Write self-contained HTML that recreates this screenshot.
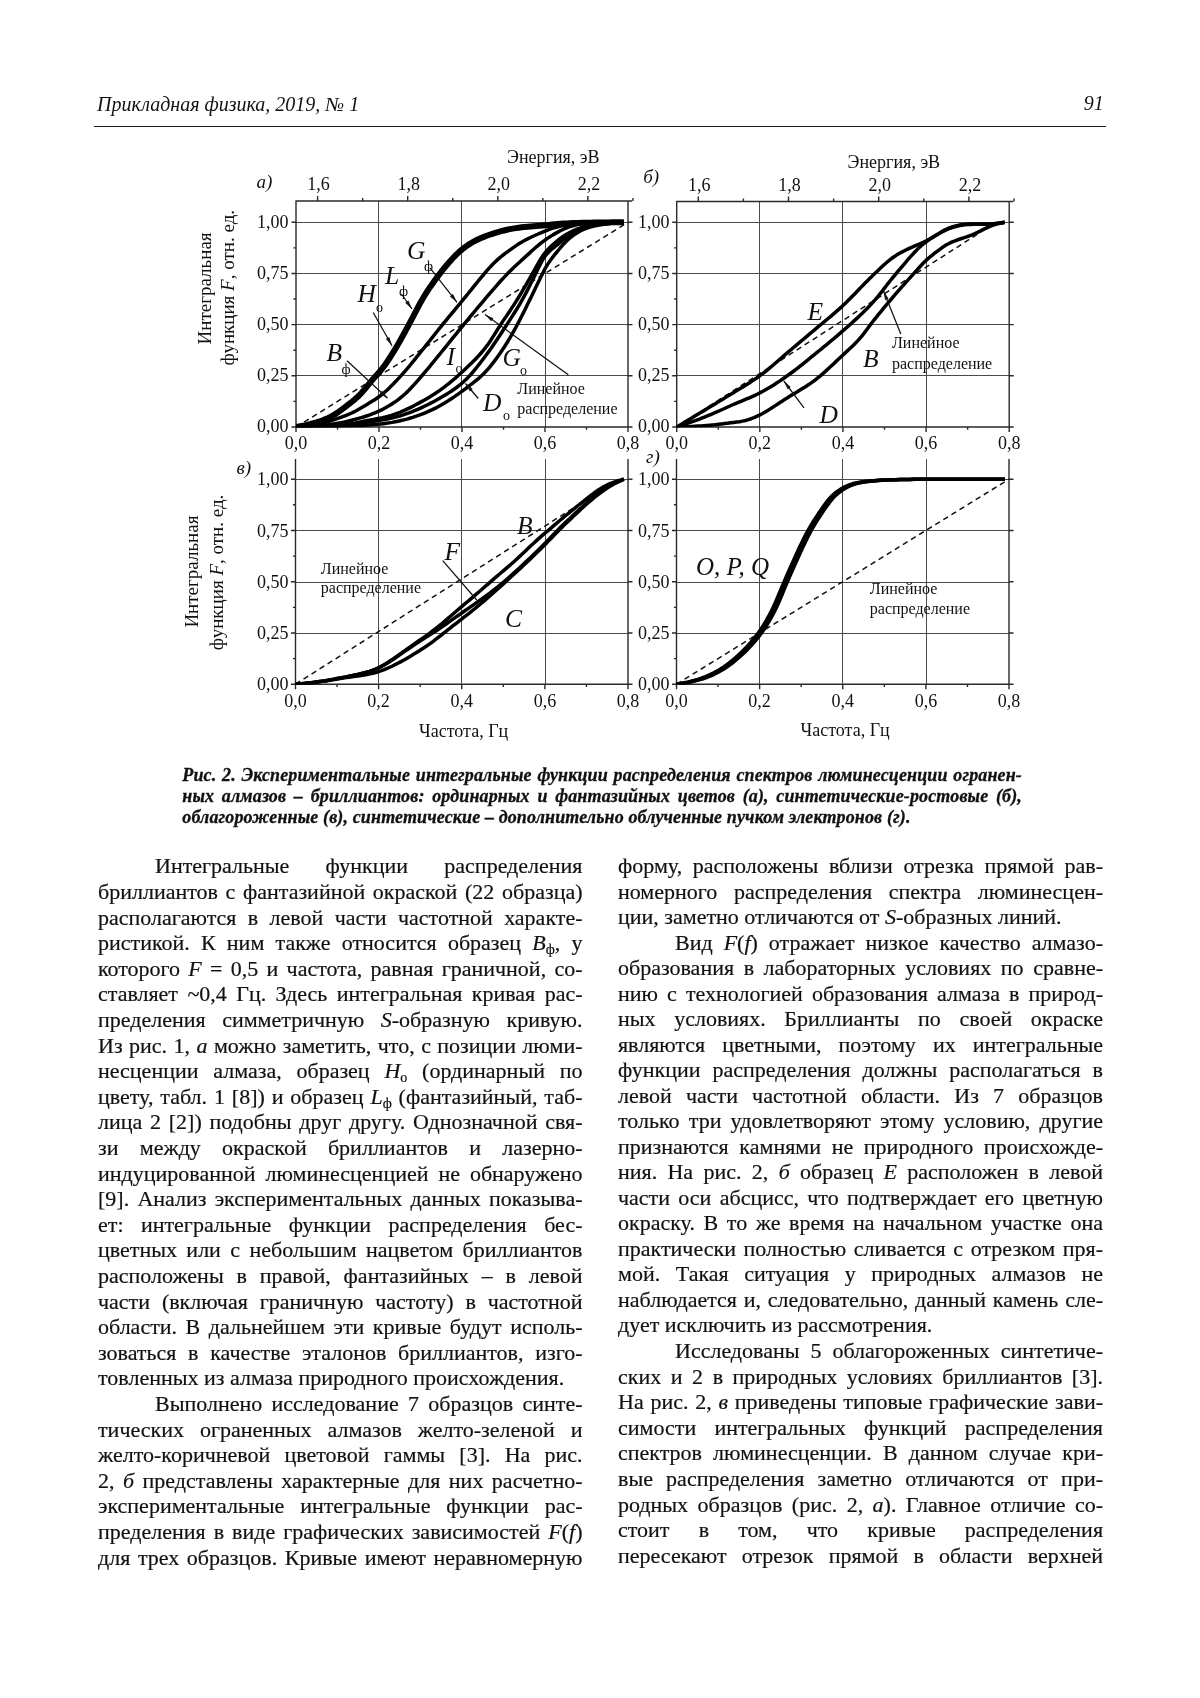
<!DOCTYPE html>
<html lang="ru"><head><meta charset="utf-8"><title>Прикладная физика, 2019, № 1</title>
<style>
html,body{margin:0;padding:0;background:#fff}
body{filter:grayscale(1)}
body{width:1200px;height:1698px;position:relative;overflow:hidden;color:#111;
font-family:"Liberation Serif","Times New Roman",serif}
.hdr{position:absolute;font-style:italic;font-size:20px;line-height:24px;white-space:nowrap}
.rule{position:absolute;left:94px;top:125.6px;width:1012px;height:1.4px;background:#1a1a1a}
.ln{position:absolute;font-size:22px;line-height:25.6px;height:25.6px;white-space:nowrap;
text-align:justify;text-align-last:justify;overflow:visible;-webkit-text-stroke:0.2px #111}
.ln.last{text-align:left;text-align-last:left}
.ln sub{font-size:14px;vertical-align:0;position:relative;top:4px;line-height:0}
.cap{position:absolute;left:182.3px;width:839.7px;font-weight:bold;font-style:italic;font-size:18px;
line-height:20.8px;white-space:nowrap;text-align:justify;text-align-last:justify;letter-spacing:0.13px;-webkit-text-stroke:0.3px #111}
.cap.last{text-align:left;text-align-last:left}
</style></head><body>
<div class="hdr" style="left:97px;top:92px">Прикладная физика, 2019, № 1</div>
<div class="hdr" style="left:1083.8px;top:91px">91</div>
<div class="rule"></div>
<svg width="1200" height="780" viewBox="0 0 1200 780" style="position:absolute;left:0;top:0">
<g font-family="Liberation Serif, Times New Roman, serif" font-size="18" fill="#111">
<path d="M296 222.5H628M296 273.5H628M296 324.5H628M296 375.5H628M378.5 201V427M461.5 201V427M545.5 201V427" stroke="#4a4a4a" stroke-width="1" fill="none"/>
<path d="M296 201V427M628 201V427M295.4 427H628.6M295.4 201H632M291.5 427H296M628 427H632.5M293.4 401.41H296M291.5 375.82H296M628 375.82H632.5M293.4 350.24H296M291.5 324.65H296M628 324.65H632.5M293.4 299.06H296M291.5 273.48H296M628 273.48H632.5M293.4 247.89H296M291.5 222.3H296M628 222.3H632.5M296 427V432M337.5 427V429.7M379 427V432M420.5 427V429.7M462 427V432M503.5 427V429.7M545 427V432M586.5 427V429.7M628 427V432M317.6 196V201M362.65 198V201M407.7 196V201M452.75 198V201M497.8 196V201M542.85 198V201M587.9 196V201M632.95 198V201" stroke="#2a2a2a" stroke-width="1.4" fill="none"/>
<path d="M676.7 222.5H1009.2M676.7 273.5H1009.2M676.7 324.5H1009.2M676.7 375.5H1009.2M759.5 201.5V427M842.5 201.5V427M926.5 201.5V427" stroke="#4a4a4a" stroke-width="1" fill="none"/>
<path d="M676.7 201.5V427M1009.2 201.5V427M676.1 427H1009.8M676.1 201.5H1013.2M672.2 427H676.7M1009.2 427H1013.7M674.1 401.41H676.7M672.2 375.82H676.7M1009.2 375.82H1013.7M674.1 350.24H676.7M672.2 324.65H676.7M1009.2 324.65H1013.7M674.1 299.06H676.7M672.2 273.48H676.7M1009.2 273.48H1013.7M674.1 247.89H676.7M672.2 222.3H676.7M1009.2 222.3H1013.7M676.7 427V432M718.26 427V429.7M759.83 427V432M801.39 427V429.7M842.95 427V432M884.51 427V429.7M926.08 427V432M967.64 427V429.7M1009.2 427V432M698.3 196.5V201.5M743.4 198.5V201.5M788.5 196.5V201.5M833.6 198.5V201.5M878.7 196.5V201.5M923.8 198.5V201.5M968.9 196.5V201.5M1014 198.5V201.5" stroke="#2a2a2a" stroke-width="1.4" fill="none"/>
<path d="M295.5 479.5H628M295.5 530.5H628M295.5 582.5H628M295.5 633.5H628M378.5 459V684.2M461.5 459V684.2M545.5 459V684.2" stroke="#4a4a4a" stroke-width="1" fill="none"/>
<path d="M295.5 459V684.2M628 459V684.2M294.9 684.2H628.6M291 684.2H295.5M628 684.2H632.5M292.9 658.58H295.5M291 632.95H295.5M628 632.95H632.5M292.9 607.33H295.5M291 581.7H295.5M628 581.7H632.5M292.9 556.08H295.5M291 530.45H295.5M628 530.45H632.5M292.9 504.82H295.5M291 479.2H295.5M628 479.2H632.5M295.5 684.2V689.2M337.06 684.2V686.9M378.62 684.2V689.2M420.19 684.2V686.9M461.75 684.2V689.2M503.31 684.2V686.9M544.88 684.2V689.2M586.44 684.2V686.9M628 684.2V689.2" stroke="#2a2a2a" stroke-width="1.4" fill="none"/>
<path d="M676.5 479.5H1009M676.5 530.5H1009M676.5 582.5H1009M676.5 633.5H1009M759.5 459V684.2M842.5 459V684.2M926.5 459V684.2" stroke="#4a4a4a" stroke-width="1" fill="none"/>
<path d="M676.5 459V684.2M1009 459V684.2M675.9 684.2H1009.6M672 684.2H676.5M1009 684.2H1013.5M673.9 658.58H676.5M672 632.95H676.5M1009 632.95H1013.5M673.9 607.33H676.5M672 581.7H676.5M1009 581.7H1013.5M673.9 556.08H676.5M672 530.45H676.5M1009 530.45H1013.5M673.9 504.82H676.5M672 479.2H676.5M1009 479.2H1013.5M676.5 684.2V689.2M718.06 684.2V686.9M759.62 684.2V689.2M801.19 684.2V686.9M842.75 684.2V689.2M884.31 684.2V686.9M925.88 684.2V689.2M967.44 684.2V686.9M1009 684.2V689.2" stroke="#2a2a2a" stroke-width="1.4" fill="none"/>
<text x="288.4" y="432.3" text-anchor="end">0,00</text>
<text x="288.4" y="381.12" text-anchor="end">0,25</text>
<text x="288.4" y="329.95" text-anchor="end">0,50</text>
<text x="288.4" y="278.78" text-anchor="end">0,75</text>
<text x="288.4" y="227.6" text-anchor="end">1,00</text>
<text x="296" y="448.8" text-anchor="middle">0,0</text>
<text x="379" y="448.8" text-anchor="middle">0,2</text>
<text x="462" y="448.8" text-anchor="middle">0,4</text>
<text x="545" y="448.8" text-anchor="middle">0,6</text>
<text x="628" y="448.8" text-anchor="middle">0,8</text>
<text x="669.5" y="432.3" text-anchor="end">0,00</text>
<text x="669.5" y="381.12" text-anchor="end">0,25</text>
<text x="669.5" y="329.95" text-anchor="end">0,50</text>
<text x="669.5" y="278.78" text-anchor="end">0,75</text>
<text x="669.5" y="227.6" text-anchor="end">1,00</text>
<text x="676.7" y="448.8" text-anchor="middle">0,0</text>
<text x="759.83" y="448.8" text-anchor="middle">0,2</text>
<text x="842.95" y="448.8" text-anchor="middle">0,4</text>
<text x="926.08" y="448.8" text-anchor="middle">0,6</text>
<text x="1009.2" y="448.8" text-anchor="middle">0,8</text>
<text x="288.5" y="690.4" text-anchor="end">0,00</text>
<text x="288.5" y="639.15" text-anchor="end">0,25</text>
<text x="288.5" y="587.9" text-anchor="end">0,50</text>
<text x="288.5" y="536.65" text-anchor="end">0,75</text>
<text x="288.5" y="485.4" text-anchor="end">1,00</text>
<text x="295.5" y="706.6" text-anchor="middle">0,0</text>
<text x="378.62" y="706.6" text-anchor="middle">0,2</text>
<text x="461.75" y="706.6" text-anchor="middle">0,4</text>
<text x="544.88" y="706.6" text-anchor="middle">0,6</text>
<text x="628" y="706.6" text-anchor="middle">0,8</text>
<text x="669.5" y="690.4" text-anchor="end">0,00</text>
<text x="669.5" y="639.15" text-anchor="end">0,25</text>
<text x="669.5" y="587.9" text-anchor="end">0,50</text>
<text x="669.5" y="536.65" text-anchor="end">0,75</text>
<text x="669.5" y="485.4" text-anchor="end">1,00</text>
<text x="676.5" y="706.6" text-anchor="middle">0,0</text>
<text x="759.62" y="706.6" text-anchor="middle">0,2</text>
<text x="842.75" y="706.6" text-anchor="middle">0,4</text>
<text x="925.88" y="706.6" text-anchor="middle">0,6</text>
<text x="1009" y="706.6" text-anchor="middle">0,8</text>
<text x="318.6" y="190.4" text-anchor="middle">1,6</text>
<text x="408.7" y="190.4" text-anchor="middle">1,8</text>
<text x="498.8" y="190.4" text-anchor="middle">2,0</text>
<text x="588.9" y="190.4" text-anchor="middle">2,2</text>
<text x="699.3" y="191.3" text-anchor="middle">1,6</text>
<text x="789.5" y="191.3" text-anchor="middle">1,8</text>
<text x="879.7" y="191.3" text-anchor="middle">2,0</text>
<text x="969.9" y="191.3" text-anchor="middle">2,2</text>
<text x="507" y="162.8">Энергия, эВ</text>
<text x="847.6" y="167.9">Энергия, эВ</text>
<text x="419" y="736.5">Частота, Гц</text>
<text x="800.5" y="736.3">Частота, Гц</text>
<text transform="translate(211.3 288.4) rotate(-90)" text-anchor="middle" font-size="19">Интегральная</text>
<text transform="translate(234.3 287.7) rotate(-90)" text-anchor="middle" font-size="19">функция <tspan font-style="italic">F</tspan>, отн. ед.</text>
<text transform="translate(197.8 571.6) rotate(-90)" text-anchor="middle" font-size="19">Интегральная</text>
<text transform="translate(222.6 572.4) rotate(-90)" text-anchor="middle" font-size="19">функция <tspan font-style="italic">F</tspan>, отн. ед.</text>
<text x="256.5" y="188.1" font-style="italic" font-size="19">а)</text>
<text x="643.2" y="182.7" font-style="italic" font-size="19">б)</text>
<text x="236.4" y="473.5" font-style="italic" font-size="19">в)</text>
<text x="646" y="462.5" font-style="italic" font-size="19">г)</text>
<defs>
<clipPath id="ca"><rect x="295.8" y="191" width="342" height="236.3"/></clipPath>
<clipPath id="cb"><rect x="676.5" y="191.5" width="342.5" height="235.8"/></clipPath>
<clipPath id="cv"><rect x="295.3" y="449" width="342.5" height="235.5"/></clipPath>
<clipPath id="cg"><rect x="676.3" y="449" width="342.5" height="235.5"/></clipPath>
</defs>
<g clip-path="url(#ca)">
<path d="M296 427L628 222.3" stroke="#111" stroke-width="1.5" stroke-dasharray="5.5 4" fill="none"/>
<path d="M296 427 299.01 426.99 302.03 426.98 305.04 426.97 308.05 426.95 311.07 426.93 314.08 426.9 317.09 426.87 320.1 426.84 323.12 426.8 326.13 426.76 329.14 426.72 332.16 426.67 335.17 426.62 338.18 426.56 341.19 426.48 344.2 426.38 347.21 426.27 350.22 426.14 353.23 425.98 356.24 425.82 359.25 425.64 362.26 425.45 365.26 425.26 368.27 425.05 371.27 424.83 374.28 424.59 377.28 424.32 380.28 424.03 383.27 423.7 386.26 423.32 389.24 422.88 392.21 422.39 395.17 421.83 398.12 421.22 401.06 420.56 403.98 419.84 406.89 419.08 409.79 418.25 412.67 417.38 415.54 416.44 418.38 415.46 421.21 414.41 424.01 413.31 426.79 412.15 429.54 410.93 432.27 409.66 434.97 408.33 437.65 406.95 440.29 405.51 442.9 404.01 445.49 402.46 448.05 400.87 450.58 399.25 453.1 397.59 455.59 395.89 458.06 394.17 460.5 392.41 462.93 390.63 465.34 388.82 467.74 387 470.13 385.16 472.51 383.32 474.87 381.45 477.21 379.55 479.5 377.59 481.72 375.57 483.87 373.47 485.96 371.29 487.97 369.06 489.92 366.77 491.83 364.44 493.69 362.07 495.51 359.67 497.3 357.25 499.06 354.8 500.78 352.33 502.47 349.84 504.12 347.32 505.73 344.77 507.31 342.21 508.86 339.62 510.39 337.03 511.9 334.42 513.38 331.79 514.85 329.16 516.3 326.52 517.72 323.86 519.12 321.2 520.5 318.52 521.86 315.83 523.21 313.14 524.55 310.44 525.88 307.73 527.21 305.03 528.54 302.33 529.87 299.62 531.19 296.92 532.51 294.21 533.83 291.5 535.14 288.78 536.45 286.07 537.75 283.35 539.06 280.64 540.36 277.92 541.68 275.21 543.02 272.52 544.41 269.85 545.88 267.23 547.45 264.66 549.1 262.15 550.84 259.69 552.64 257.28 554.49 254.91 556.39 252.56 558.31 250.25 560.26 247.94 562.23 245.67 564.24 243.43 566.32 241.26 568.5 239.2 570.78 237.25 573.17 235.43 575.65 233.73 578.2 232.16 580.84 230.73 583.55 229.45 586.33 228.34 589.18 227.39 592.07 226.56 594.99 225.84 597.93 225.21 600.89 224.67 603.87 224.2 606.85 223.78 609.84 223.42 612.84 223.1 615.84 222.83 618.84 222.6 621.84 222.41 623.85 222.3" stroke="#000" stroke-width="3.5" fill="none" stroke-linecap="butt" stroke-linejoin="round"/>
<path d="M296 427 299.01 426.99 302.02 426.97 305.03 426.94 308.03 426.91 311.04 426.87 314.05 426.82 317.06 426.76 320.07 426.69 323.07 426.62 326.08 426.54 329.09 426.45 332.09 426.35 335.1 426.23 338.1 426.07 341.1 425.87 344.1 425.6 347.08 425.26 350.06 424.86 353.04 424.42 356.01 423.95 358.98 423.46 361.94 422.96 364.91 422.48 367.89 422.01 370.86 421.57 373.84 421.15 376.82 420.73 379.8 420.3 382.77 419.84 385.73 419.33 388.68 418.76 391.62 418.12 394.54 417.41 397.45 416.64 400.34 415.81 403.21 414.92 406.06 413.96 408.89 412.95 411.7 411.87 414.48 410.74 417.25 409.56 420 408.35 422.73 407.09 425.45 405.79 428.14 404.46 430.82 403.09 433.48 401.68 436.12 400.25 438.76 398.79 441.37 397.31 443.97 395.79 446.54 394.24 449.09 392.64 451.6 390.99 454.07 389.28 456.5 387.51 458.89 385.68 461.22 383.78 463.48 381.81 465.69 379.77 467.82 377.65 469.89 375.47 471.89 373.23 473.85 370.95 475.76 368.63 477.64 366.28 479.49 363.91 481.32 361.52 483.14 359.13 484.95 356.72 486.74 354.3 488.51 351.87 490.26 349.43 491.99 346.96 493.7 344.49 495.39 342 497.07 339.5 498.73 337 500.39 334.49 502.04 331.97 503.69 329.45 505.33 326.93 506.97 324.41 508.61 321.89 510.25 319.37 511.88 316.84 513.51 314.31 515.11 311.76 516.7 309.21 518.27 306.64 519.81 304.06 521.33 301.46 522.81 298.84 524.26 296.21 525.68 293.56 527.07 290.89 528.44 288.21 529.8 285.53 531.15 282.84 532.5 280.15 533.85 277.46 535.19 274.77 536.51 272.07 537.82 269.36 539.12 266.65 540.45 263.95 541.84 261.3 543.36 258.72 545.05 256.27 546.93 253.95 548.99 251.79 551.19 249.76 553.48 247.83 555.82 245.95 558.17 244.07 560.5 242.17 562.82 240.26 565.15 238.36 567.53 236.54 569.98 234.81 572.52 233.21 575.13 231.73 577.8 230.37 580.53 229.14 583.32 228.05 586.17 227.12 589.06 226.32 591.99 225.64 594.94 225.06 597.9 224.55 600.87 224.11 603.86 223.74 606.85 223.42 609.84 223.13 612.84 222.89 615.84 222.68 618.84 222.52 621.85 222.38 623.85 222.3" stroke="#000" stroke-width="3.5" fill="none" stroke-linecap="butt" stroke-linejoin="round"/>
<path d="M296 427 299.01 426.98 302.03 426.95 305.04 426.91 308.05 426.86 311.07 426.8 314.08 426.72 317.09 426.63 320.11 426.53 323.12 426.42 326.13 426.3 329.14 426.17 332.15 426.02 335.16 425.85 338.16 425.63 341.16 425.36 344.15 425.01 347.13 424.57 350.1 424.07 353.06 423.52 356.02 422.92 358.97 422.31 361.92 421.69 364.87 421.07 367.82 420.48 370.78 419.91 373.74 419.36 376.71 418.81 379.67 418.24 382.62 417.63 385.55 416.95 388.46 416.19 391.34 415.33 394.2 414.38 397.03 413.35 399.84 412.26 402.62 411.11 405.38 409.9 408.11 408.63 410.82 407.31 413.5 405.94 416.17 404.53 418.82 403.1 421.46 401.65 424.09 400.18 426.71 398.69 429.31 397.16 431.88 395.6 434.43 393.99 436.94 392.33 439.42 390.62 441.87 388.86 444.28 387.06 446.67 385.22 449.03 383.35 451.37 381.44 453.68 379.51 455.96 377.55 458.22 375.55 460.46 373.53 462.67 371.48 464.87 369.42 467.06 367.35 469.24 365.27 471.4 363.17 473.54 361.05 475.65 358.9 477.72 356.72 479.76 354.5 481.75 352.23 483.68 349.93 485.56 347.57 487.36 345.16 489.1 342.7 490.78 340.2 492.41 337.67 494.02 335.12 495.62 332.57 497.22 330.01 498.83 327.47 500.46 324.93 502.11 322.41 503.78 319.9 505.47 317.4 507.15 314.9 508.84 312.41 510.52 309.91 512.19 307.4 513.85 304.88 515.48 302.35 517.1 299.8 518.68 297.24 520.25 294.66 521.79 292.08 523.32 289.48 524.83 286.87 526.33 284.26 527.83 281.64 529.34 279.03 530.84 276.42 532.33 273.8 533.81 271.18 535.28 268.54 536.74 265.91 538.21 263.28 539.71 260.67 541.28 258.1 542.93 255.59 544.71 253.17 546.61 250.85 548.63 248.63 550.76 246.5 552.97 244.46 555.25 242.49 557.58 240.6 559.97 238.76 562.4 236.99 564.89 235.3 567.45 233.73 570.08 232.27 572.78 230.95 575.53 229.74 578.33 228.64 581.17 227.65 584.05 226.78 586.96 226.02 589.89 225.36 592.85 224.79 595.82 224.3 598.8 223.88 601.79 223.53 604.79 223.25 607.8 223.01 610.8 222.81 613.81 222.64 616.82 222.51 619.83 222.4 622.85 222.32 623.85 222.3" stroke="#000" stroke-width="3.5" fill="none" stroke-linecap="butt" stroke-linejoin="round"/>
<path d="M296 427 299.01 426.9 302.02 426.79 305.03 426.66 308.04 426.51 311.05 426.33 314.05 426.14 317.06 425.91 320.06 425.66 323.06 425.38 326.05 425.05 329.04 424.69 332.03 424.29 335 423.84 337.97 423.34 340.93 422.78 343.88 422.16 346.81 421.48 349.73 420.75 352.65 420 355.56 419.22 358.46 418.42 361.36 417.59 364.24 416.71 367.1 415.78 369.94 414.78 372.76 413.72 375.54 412.58 378.3 411.37 381.02 410.08 383.71 408.73 386.36 407.3 388.96 405.8 391.52 404.22 394.03 402.56 396.5 400.83 398.91 399.03 401.26 397.16 403.56 395.22 405.8 393.21 407.96 391.12 410.07 388.97 412.14 386.78 414.16 384.55 416.17 382.31 418.16 380.05 420.15 377.78 422.12 375.5 424.08 373.22 426.02 370.92 427.95 368.6 429.87 366.28 431.78 363.95 433.68 361.61 435.58 359.27 437.48 356.93 439.37 354.59 441.28 352.26 443.18 349.92 445.08 347.58 446.97 345.24 448.87 342.9 450.76 340.55 452.65 338.21 454.55 335.87 456.44 333.53 458.34 331.19 460.25 328.85 462.15 326.52 464.06 324.19 465.97 321.86 467.89 319.53 469.8 317.21 471.72 314.89 473.64 312.57 475.57 310.25 477.5 307.94 479.44 305.64 481.39 303.34 483.34 301.04 485.29 298.74 487.24 296.45 489.2 294.16 491.15 291.87 493.12 289.58 495.09 287.3 497.07 285.04 499.07 282.78 501.08 280.54 503.12 278.32 505.18 276.12 507.26 273.95 509.38 271.81 511.52 269.69 513.69 267.6 515.87 265.53 518.08 263.48 520.3 261.44 522.53 259.41 524.75 257.38 526.98 255.35 529.21 253.33 531.44 251.3 533.68 249.29 535.94 247.29 538.23 245.34 540.56 243.43 542.93 241.58 545.36 239.81 547.84 238.1 550.36 236.46 552.93 234.88 555.53 233.37 558.16 231.91 560.83 230.52 563.53 229.21 566.28 228 569.09 226.94 571.95 226.04 574.85 225.28 577.79 224.64 580.75 224.13 583.73 223.72 586.72 223.43 589.73 223.21 592.73 223.04 595.74 222.91 598.75 222.79 601.76 222.69 604.77 222.59 607.78 222.52 610.8 222.45 613.81 222.4 616.82 222.36 619.83 222.33 622.85 222.31 623.85 222.3" stroke="#000" stroke-width="3.5" fill="none" stroke-linecap="butt" stroke-linejoin="round"/>
<path d="M296 427 299 426.77 302.01 426.51 305 426.2 307.99 425.83 310.97 425.41 313.95 424.94 316.91 424.4 319.86 423.79 322.79 423.1 325.7 422.32 328.59 421.47 331.46 420.57 334.32 419.62 337.17 418.65 340.02 417.66 342.85 416.63 345.67 415.56 348.46 414.44 351.22 413.24 353.94 411.95 356.61 410.57 359.23 409.09 361.82 407.56 364.39 405.98 366.96 404.4 369.53 402.83 372.1 401.27 374.66 399.69 377.18 398.04 379.63 396.3 382.01 394.47 384.32 392.54 386.57 390.53 388.76 388.47 390.91 386.36 393.03 384.22 395.12 382.05 397.19 379.86 399.25 377.66 401.29 375.44 403.3 373.2 405.29 370.93 407.24 368.64 409.17 366.32 411.08 363.99 412.98 361.65 414.87 359.3 416.75 356.95 418.64 354.6 420.53 352.25 422.41 349.9 424.3 347.55 426.17 345.19 428.05 342.83 429.92 340.47 431.79 338.1 433.65 335.74 435.53 333.37 437.4 331.01 439.28 328.66 441.17 326.31 443.07 323.97 444.98 321.64 446.89 319.31 448.81 316.99 450.74 314.67 452.67 312.35 454.59 310.04 456.52 307.72 458.45 305.4 460.36 303.08 462.28 300.75 464.18 298.41 466.08 296.07 467.97 293.73 469.86 291.38 471.75 289.03 473.64 286.68 475.54 284.34 477.44 282 479.35 279.67 481.27 277.35 483.2 275.04 485.15 272.73 487.12 270.45 489.12 268.2 491.16 265.99 493.24 263.81 495.37 261.69 497.56 259.62 499.82 257.64 502.16 255.74 504.55 253.92 506.98 252.14 509.43 250.38 511.87 248.62 514.32 246.86 516.79 245.15 519.31 243.5 521.88 241.94 524.51 240.48 527.19 239.1 529.89 237.78 532.62 236.49 535.36 235.24 538.11 234.01 540.88 232.83 543.66 231.67 546.46 230.55 549.27 229.46 552.09 228.43 554.95 227.5 557.84 226.69 560.77 226.02 563.73 225.46 566.7 224.99 569.69 224.58 572.68 224.23 575.67 223.92 578.67 223.65 581.68 223.43 584.69 223.25 587.7 223.1 590.71 222.98 593.72 222.87 596.73 222.77 599.74 222.68 602.76 222.6 605.77 222.53 608.78 222.47 611.8 222.42 614.81 222.37 617.82 222.34 620.84 222.32 623.85 222.3" stroke="#000" stroke-width="3.5" fill="none" stroke-linecap="butt" stroke-linejoin="round"/>
<path d="M296 427 298.97 426.51 301.93 425.97 304.88 425.38 307.82 424.73 310.74 424.01 313.64 423.22 316.53 422.38 319.4 421.46 322.23 420.46 325.03 419.36 327.78 418.16 330.48 416.84 333.11 415.4 335.67 413.83 338.16 412.15 340.6 410.39 343.01 408.59 345.41 406.77 347.81 404.95 350.19 403.11 352.55 401.24 354.86 399.32 357.11 397.33 359.27 395.24 361.36 393.08 363.37 390.84 365.31 388.55 367.21 386.21 369.08 383.86 370.98 381.52 372.92 379.23 374.91 376.98 376.94 374.76 378.95 372.52 380.9 370.24 382.78 367.89 384.58 365.48 386.31 363.02 388 360.53 389.65 358.01 391.27 355.47 392.87 352.92 394.45 350.36 396 347.78 397.53 345.19 399.04 342.58 400.52 339.96 401.98 337.33 403.43 334.69 404.87 332.04 406.3 329.4 407.74 326.75 409.16 324.09 410.58 321.44 411.98 318.77 413.37 316.1 414.76 313.43 416.14 310.76 417.54 308.09 418.95 305.43 420.39 302.79 421.87 300.16 423.38 297.56 424.94 294.99 426.55 292.44 428.19 289.92 429.87 287.42 431.58 284.94 433.32 282.49 435.08 280.05 436.87 277.62 438.67 275.21 440.5 272.82 442.34 270.44 444.22 268.08 446.12 265.75 448.07 263.46 450.06 261.2 452.09 258.98 454.16 256.8 456.28 254.67 458.47 252.6 460.71 250.6 463.03 248.69 465.42 246.86 467.87 245.13 470.39 243.49 472.97 241.96 475.62 240.53 478.32 239.21 481.06 237.99 483.85 236.85 486.66 235.77 489.49 234.76 492.34 233.79 495.21 232.87 498.09 232.01 500.99 231.21 503.91 230.47 506.84 229.79 509.78 229.17 512.74 228.62 515.71 228.12 518.69 227.69 521.67 227.32 524.67 227 527.67 226.73 530.67 226.48 533.67 226.25 536.67 226.03 539.67 225.79 542.67 225.53 545.67 225.24 548.66 224.93 551.66 224.6 554.65 224.28 557.65 224 560.65 223.76 563.65 223.56 566.66 223.39 569.66 223.25 572.67 223.12 575.68 223.01 578.69 222.91 581.7 222.83 584.71 222.76 587.72 222.7 590.73 222.64 593.74 222.59 596.75 222.54 599.76 222.5 602.77 222.46 605.78 222.42 608.79 222.39 611.81 222.36 614.82 222.34 617.83 222.32 620.84 222.31 623.85 222.3" stroke="#000" stroke-width="6" fill="none" stroke-linecap="butt" stroke-linejoin="round"/>
</g>
<g clip-path="url(#cb)">
<path d="M676.7 427L995.9 222.3" stroke="#111" stroke-width="1.5" stroke-dasharray="5.5 4" fill="none"/>
<path d="M676.7 427 679.28 425.45 681.87 423.89 684.45 422.34 687.03 420.79 689.61 419.23 692.19 417.67 694.77 416.12 697.35 414.56 699.93 413 702.51 411.44 705.09 409.88 707.67 408.32 710.25 406.76 712.82 405.2 715.4 403.64 717.98 402.07 720.56 400.51 723.13 398.95 725.7 397.38 728.28 395.81 730.85 394.24 733.42 392.67 736 391.1 738.57 389.53 741.14 387.97 743.71 386.39 746.27 384.8 748.82 383.19 751.35 381.56 753.86 379.89 756.35 378.2 758.82 376.46 761.25 374.68 763.65 372.86 766.02 371 768.36 369.1 770.67 367.18 772.97 365.23 775.26 363.26 777.53 361.29 779.8 359.31 782.08 357.33 784.35 355.35 786.64 353.38 788.93 351.43 791.22 349.48 793.53 347.53 795.83 345.59 798.14 343.65 800.44 341.71 802.75 339.76 805.05 337.82 807.35 335.88 809.66 333.93 811.96 331.99 814.27 330.05 816.58 328.12 818.9 326.19 821.21 324.26 823.53 322.34 825.85 320.41 828.16 318.48 830.47 316.54 832.77 314.59 835.05 312.62 837.32 310.64 839.57 308.63 841.8 306.61 844 304.55 846.18 302.47 848.33 300.36 850.46 298.22 852.56 296.07 854.66 293.91 856.75 291.73 858.83 289.56 860.92 287.38 863.01 285.21 865.12 283.06 867.24 280.92 869.38 278.79 871.53 276.69 873.7 274.59 875.87 272.51 878.05 270.42 880.23 268.34 882.43 266.28 884.65 264.25 886.91 262.26 889.23 260.34 891.6 258.49 894.05 256.74 896.56 255.1 899.15 253.56 901.78 252.1 904.46 250.73 907.17 249.41 909.9 248.14 912.65 246.9 915.4 245.69 918.17 244.5 920.94 243.31 923.68 242.07 926.39 240.76 929.05 239.35 931.66 237.85 934.24 236.3 936.8 234.71 939.36 233.12 941.94 231.58 944.56 230.12 947.26 228.8 950.02 227.64 952.85 226.67 955.74 225.86 958.67 225.22 961.64 224.73 964.62 224.37 967.62 224.15 970.63 224.02 973.64 223.98 976.65 223.98 979.66 224.03 982.67 224.08 985.68 224.12 988.68 224.06 991.68 223.89 994.67 223.6 997.66 223.24 1000.65 222.84 1003.63 222.44 1004.63 222.3" stroke="#000" stroke-width="3.5" fill="none" stroke-linecap="butt" stroke-linejoin="round"/>
<path d="M676.7 427 679.57 426.08 682.44 425.15 685.3 424.2 688.15 423.22 690.99 422.21 693.82 421.18 696.65 420.13 699.47 419.06 702.28 417.97 705.08 416.86 707.88 415.73 710.67 414.59 713.45 413.43 716.22 412.23 718.97 411.01 721.71 409.76 724.45 408.49 727.18 407.23 729.93 405.98 732.69 404.77 735.46 403.59 738.25 402.43 741.03 401.28 743.82 400.14 746.61 398.98 749.38 397.8 752.14 396.59 754.88 395.34 757.6 394.04 760.29 392.68 762.95 391.27 765.59 389.8 768.19 388.29 770.77 386.74 773.33 385.15 775.87 383.52 778.4 381.87 780.9 380.2 783.39 378.5 785.87 376.78 788.34 375.05 790.78 373.29 793.21 371.5 795.61 369.68 797.99 367.83 800.36 365.96 802.71 364.07 805.05 362.17 807.39 360.27 809.72 358.36 812.06 356.46 814.4 354.56 816.74 352.66 819.09 350.76 821.43 348.86 823.76 346.96 826.1 345.05 828.42 343.13 830.74 341.21 833.06 339.27 835.36 337.33 837.65 335.37 839.94 333.4 842.21 331.42 844.48 329.43 846.74 327.44 848.99 325.44 851.25 323.44 853.49 321.42 855.72 319.39 857.94 317.35 860.14 315.29 862.32 313.21 864.48 311.11 866.62 308.98 868.73 306.83 870.8 304.65 872.84 302.43 874.83 300.17 876.78 297.87 878.7 295.54 880.57 293.18 882.43 290.81 884.28 288.42 886.12 286.04 887.97 283.65 889.83 281.28 891.71 278.93 893.61 276.59 895.54 274.28 897.48 271.97 899.43 269.67 901.37 267.36 903.32 265.06 905.27 262.76 907.23 260.47 909.21 258.2 911.21 255.94 913.23 253.71 915.3 251.52 917.41 249.36 919.57 247.27 921.8 245.25 924.11 243.32 926.5 241.49 928.96 239.77 931.49 238.14 934.07 236.58 936.67 235.06 939.28 233.55 941.9 232.07 944.56 230.67 947.27 229.38 950.05 228.24 952.88 227.27 955.78 226.46 958.71 225.8 961.67 225.27 964.65 224.87 967.64 224.58 970.65 224.38 973.66 224.28 976.67 224.24 979.68 224.25 982.69 224.3 985.7 224.32 988.71 224.27 991.7 224.08 994.69 223.78 997.68 223.38 1000.66 222.93 1003.64 222.46 1004.63 222.3" stroke="#000" stroke-width="3.5" fill="none" stroke-linecap="butt" stroke-linejoin="round"/>
<path d="M676.7 427 679.71 426.94 682.72 426.86 685.72 426.76 688.73 426.64 691.73 426.49 694.74 426.32 697.74 426.12 700.74 425.92 703.74 425.69 706.74 425.46 709.74 425.21 712.73 424.94 715.73 424.65 718.72 424.32 721.7 423.96 724.69 423.57 727.67 423.19 730.66 422.82 733.64 422.46 736.63 422.09 739.6 421.67 742.56 421.15 745.48 420.5 748.36 419.69 751.2 418.72 753.99 417.63 756.75 416.43 759.46 415.13 762.12 413.75 764.73 412.27 767.31 410.71 769.86 409.12 772.39 407.5 774.92 405.87 777.45 404.23 779.97 402.59 782.49 400.95 785.01 399.31 787.54 397.69 790.09 396.08 792.65 394.5 795.22 392.94 797.8 391.4 800.38 389.85 802.95 388.29 805.51 386.7 808.03 385.06 810.52 383.38 812.96 381.63 815.36 379.82 817.72 377.95 820.04 376.03 822.32 374.08 824.58 372.09 826.81 370.08 829.03 368.04 831.23 365.99 833.42 363.93 835.61 361.86 837.8 359.8 839.99 357.74 842.19 355.69 844.4 353.64 846.61 351.61 848.82 349.57 851.02 347.51 853.19 345.44 855.33 343.32 857.41 341.15 859.43 338.92 861.37 336.63 863.25 334.29 865.08 331.9 866.88 329.49 868.67 327.08 870.47 324.67 872.3 322.28 874.15 319.9 876.02 317.55 877.9 315.2 879.8 312.87 881.71 310.54 883.62 308.22 885.54 305.9 887.47 303.6 889.41 301.3 891.36 299 893.31 296.71 895.27 294.43 897.24 292.16 899.22 289.89 901.21 287.64 903.21 285.38 905.21 283.14 907.22 280.9 909.24 278.67 911.25 276.43 913.26 274.19 915.27 271.95 917.27 269.7 919.27 267.46 921.3 265.24 923.37 263.06 925.5 260.95 927.71 258.91 929.98 256.95 932.31 255.05 934.68 253.19 937.07 251.36 939.47 249.56 941.9 247.8 944.39 246.12 946.95 244.58 949.6 243.17 952.32 241.92 955.1 240.78 957.92 239.74 960.76 238.77 963.62 237.84 966.48 236.9 969.32 235.92 972.13 234.86 974.89 233.69 977.6 232.4 980.27 231.03 982.94 229.66 985.63 228.32 988.36 227.06 991.13 225.91 993.95 224.89 996.81 224.02 999.72 223.29 1002.66 222.68 1004.63 222.3" stroke="#000" stroke-width="3.5" fill="none" stroke-linecap="butt" stroke-linejoin="round"/>
</g>
<g clip-path="url(#cv)">
<path d="M295.5 684.2L618.86 479.2" stroke="#111" stroke-width="1.5" stroke-dasharray="5.5 4" fill="none"/>
<path d="M295.5 684.2 298.5 683.97 301.5 683.73 304.5 683.48 307.49 683.21 310.48 682.9 313.47 682.57 316.46 682.2 319.44 681.8 322.41 681.37 325.39 680.92 328.36 680.44 331.33 679.96 334.3 679.47 337.27 679 340.24 678.53 343.21 678.08 346.19 677.64 349.17 677.21 352.15 676.79 355.12 676.36 358.1 675.92 361.07 675.46 364.04 674.97 366.99 674.44 369.94 673.85 372.86 673.19 375.75 672.45 378.62 671.6 381.46 670.65 384.26 669.61 387.03 668.47 389.77 667.26 392.49 666 395.19 664.67 397.86 663.31 400.52 661.9 403.15 660.44 405.76 658.95 408.35 657.43 410.93 655.89 413.51 654.34 416.08 652.77 418.63 651.19 421.18 649.6 423.71 647.97 426.21 646.31 428.68 644.6 431.12 642.85 433.53 641.06 435.92 639.23 438.29 637.39 440.66 635.53 443.02 633.67 445.38 631.8 447.74 629.94 450.11 628.08 452.48 626.23 454.85 624.38 457.23 622.53 459.6 620.68 461.98 618.83 464.35 616.98 466.72 615.13 469.09 613.27 471.44 611.4 473.79 609.51 476.12 607.61 478.43 605.69 480.73 603.75 483.02 601.8 485.29 599.83 487.56 597.85 489.81 595.86 492.07 593.86 494.32 591.86 496.56 589.86 498.81 587.86 501.05 585.85 503.29 583.85 505.53 581.84 507.77 579.82 510 577.8 512.22 575.77 514.44 573.74 516.66 571.7 518.86 569.66 521.07 567.61 523.27 565.56 525.46 563.5 527.65 561.44 529.83 559.37 532.01 557.29 534.18 555.2 536.34 553.11 538.5 551.01 540.64 548.9 542.78 546.78 544.9 544.65 547.01 542.5 549.11 540.35 551.21 538.2 553.31 536.04 555.41 533.88 557.52 531.74 559.64 529.6 561.77 527.48 563.91 525.37 566.07 523.28 568.24 521.19 570.42 519.11 572.6 517.04 574.79 514.98 576.98 512.92 579.18 510.87 581.4 508.83 583.62 506.8 585.86 504.79 588.11 502.8 590.38 500.83 592.68 498.89 595 496.98 597.35 495.11 599.73 493.27 602.15 491.49 604.6 489.76 607.1 488.1 609.64 486.51 612.22 485 614.85 483.56 617.52 482.2 620.22 480.89 622.94 479.62 623.84 479.2" stroke="#000" stroke-width="3.5" fill="none" stroke-linecap="butt" stroke-linejoin="round"/>
<path d="M295.5 684.2 298.5 683.94 301.49 683.67 304.49 683.39 307.48 683.09 310.47 682.76 313.46 682.4 316.44 682.01 319.42 681.6 322.4 681.15 325.37 680.67 328.33 680.17 331.3 679.65 334.26 679.11 337.22 678.56 340.17 678.01 343.13 677.44 346.08 676.87 349.03 676.29 351.98 675.69 354.93 675.07 357.86 674.41 360.79 673.73 363.7 672.99 366.59 672.2 369.46 671.33 372.3 670.38 375.09 669.32 377.84 668.15 380.53 666.88 383.17 665.49 385.77 664.01 388.33 662.45 390.86 660.83 393.37 659.17 395.86 657.49 398.34 655.79 400.82 654.08 403.29 652.37 405.77 650.66 408.25 648.96 410.73 647.25 413.22 645.56 415.71 643.88 418.22 642.21 420.73 640.56 423.26 638.93 425.8 637.32 428.35 635.72 430.9 634.12 433.45 632.53 435.98 630.92 438.51 629.28 441.01 627.62 443.49 625.92 445.95 624.2 448.4 622.45 450.85 620.7 453.29 618.95 455.74 617.2 458.2 615.46 460.66 613.73 463.13 612.01 465.6 610.29 468.07 608.58 470.54 606.86 473.01 605.14 475.48 603.42 477.93 601.68 480.39 599.93 482.83 598.17 485.26 596.4 487.68 594.62 490.09 592.81 492.48 590.99 494.86 589.15 497.23 587.29 499.57 585.4 501.89 583.49 504.19 581.56 506.48 579.6 508.74 577.62 510.99 575.62 513.23 573.61 515.45 571.58 517.67 569.55 519.88 567.51 522.09 565.46 524.29 563.4 526.48 561.34 528.67 559.28 530.85 557.2 533.02 555.12 535.19 553.03 537.34 550.93 539.49 548.82 541.62 546.7 543.74 544.57 545.85 542.42 547.95 540.26 550.03 538.1 552.12 535.93 554.21 533.76 556.3 531.6 558.41 529.46 560.54 527.33 562.68 525.22 564.84 523.12 567.01 521.04 569.2 518.97 571.39 516.91 573.58 514.85 575.78 512.8 577.98 510.75 580.19 508.71 582.42 506.68 584.65 504.67 586.91 502.68 589.19 500.71 591.49 498.78 593.82 496.89 596.19 495.03 598.59 493.23 601.03 491.48 603.5 489.78 606.02 488.16 608.58 486.6 611.19 485.12 613.84 483.73 616.53 482.42 619.26 481.18 622 479.98 623.84 479.2" stroke="#000" stroke-width="3.5" fill="none" stroke-linecap="butt" stroke-linejoin="round"/>
<path d="M295.5 684.2 298.5 683.94 301.5 683.67 304.5 683.39 307.49 683.09 310.48 682.76 313.47 682.4 316.45 682.01 319.44 681.59 322.41 681.14 325.38 680.67 328.35 680.16 331.32 679.64 334.28 679.11 337.24 678.56 340.2 678 343.16 677.44 346.11 676.87 349.07 676.28 352.02 675.68 354.96 675.06 357.9 674.41 360.83 673.72 363.74 672.98 366.63 672.18 369.5 671.31 372.33 670.34 375.11 669.27 377.84 668.07 380.51 666.76 383.13 665.33 385.7 663.8 388.23 662.2 390.73 660.54 393.21 658.84 395.68 657.12 398.14 655.39 400.6 653.65 403.06 651.91 405.52 650.17 407.98 648.43 410.44 646.7 412.91 644.97 415.37 643.24 417.84 641.52 420.31 639.8 422.78 638.07 425.24 636.33 427.69 634.59 430.13 632.82 432.55 631.03 434.94 629.21 437.32 627.37 439.66 625.48 441.98 623.57 444.28 621.63 446.56 619.66 448.83 617.69 451.1 615.7 453.36 613.72 455.64 611.75 457.92 609.79 460.21 607.84 462.51 605.89 464.81 603.95 467.11 602.01 469.41 600.06 471.71 598.11 474 596.16 476.28 594.2 478.56 592.23 480.83 590.25 483.1 588.27 485.37 586.29 487.63 584.31 489.91 582.33 492.18 580.36 494.47 578.4 496.75 576.44 499.04 574.49 501.34 572.54 503.63 570.59 505.92 568.63 508.21 566.67 510.48 564.7 512.74 562.71 514.98 560.7 517.21 558.68 519.42 556.64 521.62 554.58 523.8 552.51 525.98 550.43 528.16 548.35 530.34 546.27 532.53 544.2 534.73 542.16 536.96 540.13 539.2 538.12 541.46 536.14 543.75 534.18 546.04 532.23 548.34 530.29 550.64 528.34 552.94 526.4 555.23 524.45 557.52 522.5 559.81 520.54 562.11 518.59 564.41 516.66 566.72 514.73 569.05 512.81 571.38 510.91 573.72 509.02 576.07 507.13 578.42 505.25 580.78 503.38 583.14 501.5 585.5 499.63 587.86 497.77 590.23 495.92 592.61 494.09 595.02 492.3 597.47 490.57 599.97 488.93 602.52 487.38 605.14 485.95 607.81 484.64 610.55 483.45 613.34 482.39 616.17 481.42 619.03 480.55 621.92 479.73 623.84 479.2" stroke="#000" stroke-width="3.5" fill="none" stroke-linecap="butt" stroke-linejoin="round"/>
</g>
<g clip-path="url(#cg)">
<path d="M676.5 684.2L1009 479.2" stroke="#111" stroke-width="1.5" stroke-dasharray="5.5 4" fill="none"/>
<path d="M676.5 684.2 679.47 683.71 682.43 683.18 685.38 682.59 688.32 681.93 691.24 681.2 694.14 680.41 697.03 679.56 699.9 678.65 702.73 677.65 705.54 676.57 708.31 675.4 711.04 674.15 713.74 672.81 716.4 671.4 719 669.9 721.55 668.32 724.05 666.64 726.5 664.89 728.9 663.08 731.27 661.22 733.59 659.31 735.88 657.35 738.12 655.34 740.32 653.29 742.48 651.19 744.59 649.05 746.67 646.87 748.71 644.65 750.7 642.39 752.64 640.1 754.54 637.76 756.39 635.39 758.19 632.98 759.93 630.52 761.62 628.03 763.25 625.5 764.82 622.94 766.35 620.34 767.83 617.72 769.28 615.08 770.68 612.41 772.03 609.73 773.34 607.02 774.6 604.28 775.81 601.53 777 598.76 778.15 595.98 779.3 593.19 780.45 590.41 781.6 587.63 782.77 584.85 783.95 582.08 785.14 579.32 786.35 576.56 787.56 573.8 788.78 571.04 790 568.29 791.23 565.54 792.47 562.8 793.71 560.06 794.96 557.32 796.21 554.58 797.46 551.84 798.71 549.1 799.98 546.36 801.26 543.64 802.56 540.92 803.89 538.22 805.25 535.54 806.66 532.88 808.11 530.24 809.6 527.62 811.12 525.03 812.69 522.45 814.28 519.9 815.91 517.37 817.57 514.85 819.25 512.35 820.95 509.87 822.66 507.39 824.39 504.93 826.17 502.5 828.02 500.14 829.97 497.86 832.05 495.71 834.27 493.71 836.63 491.86 839.09 490.15 841.64 488.58 844.27 487.13 846.97 485.83 849.74 484.73 852.59 483.81 855.5 483.07 858.44 482.48 861.41 481.99 864.39 481.59 867.38 481.25 870.37 480.95 873.37 480.68 876.38 480.45 879.38 480.25 882.39 480.08 885.39 479.94 888.4 479.83 891.41 479.74 894.42 479.67 897.44 479.6 900.45 479.54 903.46 479.48 906.47 479.43 909.48 479.38 912.49 479.34 915.5 479.3 918.51 479.27 921.52 479.25 924.54 479.23 927.55 479.21 930.56 479.21 933.57 479.2 936.58 479.2 939.59 479.2 942.61 479.2 945.62 479.2 948.63 479.2 951.64 479.2 954.65 479.2 957.66 479.2 960.67 479.2 963.69 479.2 966.7 479.2 969.71 479.2 972.72 479.2 975.73 479.2 978.74 479.2 981.76 479.2 984.77 479.2 987.78 479.2 990.79 479.2 993.8 479.2 996.81 479.2 999.82 479.2 1002.84 479.2 1004.84 479.2" stroke="#000" stroke-width="3.5" fill="none" stroke-linecap="butt" stroke-linejoin="round"/>
<path d="M676.5 684.2 679.48 683.78 682.45 683.33 685.42 682.8 688.36 682.2 691.3 681.52 694.22 680.79 697.12 680 700 679.14 702.86 678.21 705.69 677.18 708.48 676.07 711.23 674.85 713.95 673.56 716.62 672.19 719.25 670.73 721.84 669.19 724.36 667.56 726.83 665.85 729.26 664.07 731.65 662.24 733.99 660.35 736.3 658.42 738.57 656.44 740.79 654.41 742.97 652.34 745.11 650.22 747.21 648.06 749.26 645.87 751.28 643.63 753.25 641.36 755.17 639.04 757.05 636.69 758.88 634.3 760.65 631.87 762.37 629.39 764.03 626.88 765.63 624.34 767.18 621.76 768.69 619.15 770.16 616.52 771.58 613.87 772.96 611.2 774.29 608.5 775.58 605.78 776.82 603.03 778.02 600.27 779.19 597.5 780.34 594.72 781.48 591.93 782.63 589.15 783.79 586.37 784.96 583.59 786.15 580.83 787.35 578.06 788.56 575.31 789.77 572.55 790.99 569.8 792.22 567.05 793.45 564.3 794.69 561.56 795.94 558.81 797.19 556.07 798.44 553.33 799.69 550.6 800.95 547.86 802.22 545.13 803.51 542.41 804.82 539.7 806.16 537.01 807.55 534.33 808.97 531.68 810.44 529.05 811.95 526.44 813.49 523.86 815.07 521.3 816.68 518.75 818.32 516.23 819.99 513.72 821.68 511.23 823.38 508.75 825.1 506.28 826.85 503.83 828.66 501.42 830.55 499.09 832.56 496.87 834.7 494.79 836.98 492.85 839.39 491.07 841.9 489.43 844.48 487.91 847.14 486.52 849.87 485.31 852.68 484.29 855.56 483.46 858.48 482.79 861.44 482.25 864.41 481.8 867.4 481.43 870.39 481.11 873.39 480.82 876.39 480.57 879.39 480.35 882.4 480.17 885.4 480.01 888.41 479.89 891.42 479.79 894.43 479.71 897.44 479.64 900.45 479.57 903.46 479.51 906.47 479.46 909.49 479.41 912.5 479.36 915.51 479.32 918.52 479.29 921.53 479.26 924.54 479.24 927.55 479.22 930.56 479.21 933.57 479.2 936.59 479.2 939.6 479.2 942.61 479.2 945.62 479.2 948.63 479.2 951.64 479.2 954.65 479.2 957.67 479.2 960.68 479.2 963.69 479.2 966.7 479.2 969.71 479.2 972.72 479.2 975.73 479.2 978.75 479.2 981.76 479.2 984.77 479.2 987.78 479.2 990.79 479.2 993.8 479.2 996.81 479.2 999.82 479.2 1002.84 479.2 1004.84 479.2" stroke="#000" stroke-width="3.5" fill="none" stroke-linecap="butt" stroke-linejoin="round"/>
<path d="M676.5 684.2 679.49 683.85 682.47 683.46 685.44 682.99 688.4 682.44 691.34 681.82 694.27 681.14 697.19 680.39 700.09 679.59 702.97 678.72 705.82 677.76 708.63 676.7 711.4 675.54 714.14 674.29 716.83 672.96 719.49 671.54 722.1 670.05 724.65 668.46 727.15 666.8 729.6 665.05 732.01 663.25 734.38 661.39 736.71 659.48 739 657.53 741.24 655.53 743.45 653.48 745.61 651.38 747.73 649.25 749.81 647.07 751.84 644.86 753.84 642.6 755.79 640.31 757.69 637.98 759.55 635.61 761.35 633.2 763.1 630.75 764.79 628.26 766.42 625.74 768 623.17 769.53 620.58 771.02 617.97 772.47 615.33 773.87 612.66 775.23 609.98 776.54 607.27 777.81 604.54 779.03 601.79 780.21 599.02 781.37 596.24 782.52 593.46 783.66 590.67 784.82 587.89 785.98 585.11 787.16 582.34 788.35 579.58 789.56 576.82 790.77 574.06 791.98 571.31 793.21 568.55 794.44 565.81 795.68 563.06 796.92 560.32 798.17 557.58 799.41 554.84 800.66 552.1 801.92 549.36 803.18 546.63 804.46 543.9 805.76 541.18 807.08 538.48 808.45 535.8 809.85 533.13 811.29 530.49 812.78 527.87 814.3 525.28 815.86 522.7 817.45 520.15 819.08 517.61 820.73 515.1 822.41 512.6 824.1 510.11 825.81 507.63 827.55 505.17 829.32 502.74 831.16 500.36 833.1 498.08 835.17 495.91 837.37 493.9 839.72 492.03 842.17 490.32 844.71 488.73 847.33 487.26 850.02 485.95 852.79 484.83 855.63 483.89 858.53 483.14 861.47 482.53 864.44 482.04 867.42 481.63 870.41 481.28 873.4 480.97 876.4 480.71 879.4 480.47 882.41 480.27 885.41 480.09 888.42 479.95 891.43 479.84 894.44 479.75 897.45 479.68 900.46 479.61 903.47 479.55 906.48 479.49 909.49 479.44 912.5 479.39 915.51 479.34 918.52 479.31 921.53 479.28 924.54 479.25 927.56 479.23 930.57 479.22 933.58 479.21 936.59 479.2 939.6 479.2 942.61 479.2 945.62 479.2 948.63 479.2 951.65 479.2 954.66 479.2 957.67 479.2 960.68 479.2 963.69 479.2 966.7 479.2 969.71 479.2 972.72 479.2 975.74 479.2 978.75 479.2 981.76 479.2 984.77 479.2 987.78 479.2 990.79 479.2 993.8 479.2 996.81 479.2 999.83 479.2 1002.84 479.2 1004.84 479.2" stroke="#000" stroke-width="3.5" fill="none" stroke-linecap="butt" stroke-linejoin="round"/>
</g>
<g font-style="italic" font-size="25.5">
<text x="407" y="258.8">G</text>
<text x="385" y="284.3">L</text>
<text x="357.5" y="301.5">H</text>
<text x="326.5" y="360.8">B</text>
<text x="446.5" y="364.5">I</text>
<text x="502.5" y="365.5">G</text>
<text x="483" y="411.3">D</text>
<text x="807.5" y="320.3">E</text>
<text x="863" y="366.7">B</text>
<text x="819.5" y="423.2">D</text>
<text x="444.5" y="559.5">F</text>
<text x="517" y="534">B</text>
<text x="505" y="627.3">C</text>
<text x="696" y="574.6" font-size="25">O, P, Q</text>
</g>
<g font-size="14">
<text x="424" y="271">ф</text>
<text x="399" y="295.5">ф</text>
<text x="376" y="312">о</text>
<text x="341.5" y="373.5">ф</text>
<text x="455.5" y="372.5">о</text>
<text x="520" y="375.3">о</text>
<text x="503" y="419.6">о</text>
</g>
<g font-size="16">
<text x="517.3" y="393.7">Линейное</text><text x="517.3" y="413.8">распределение</text>
<text x="892" y="347.5">Линейное</text><text x="892" y="368.6">распределение</text>
<text x="320.8" y="573.6">Линейное</text><text x="320.8" y="593.3">распределение</text>
<text x="869.8" y="593.5">Линейное</text><text x="869.8" y="614">распределение</text>
</g>
<path d="M430 267.8L457 302.3" stroke="#111" stroke-width="1.25" fill="none"/><path d="M457 302.3L449.96 296.38L452.95 294.04Z" fill="#111"/>
<path d="M401.5 294L412 309" stroke="#111" stroke-width="1.25" fill="none"/><path d="M412 309L405.28 302.72L408.4 300.54Z" fill="#111"/>
<path d="M373.2 312.5L392 345.8" stroke="#111" stroke-width="1.25" fill="none"/><path d="M392 345.8L385.92 338.9L389.23 337.03Z" fill="#111"/>
<path d="M347 360.8L387.5 398.3" stroke="#111" stroke-width="1.25" fill="none"/><path d="M387.5 398.3L379.61 393.58L382.19 390.79Z" fill="#111"/>
<path d="M478.3 398.5L465.5 383.5" stroke="#111" stroke-width="1.25" fill="none"/><path d="M465.5 383.5L472.79 389.11L469.9 391.58Z" fill="#111"/>
<path d="M568.3 374.8L485 314.5" stroke="#111" stroke-width="1.25" fill="none"/><path d="M485 314.5L493.4 318.24L491.18 321.32Z" fill="#111"/>
<path d="M900.8 334.1L883.5 291" stroke="#111" stroke-width="1.25" fill="none"/><path d="M883.5 291L888.62 298.64L885.09 300.06Z" fill="#111"/>
<path d="M804 407.9L783.8 381" stroke="#111" stroke-width="1.25" fill="none"/><path d="M783.8 381L790.72 387.06L787.68 389.34Z" fill="#111"/>
<path d="M442.7 560.7L476.7 600" stroke="#111" stroke-width="1.25" fill="none"/>
</g></svg>
<div class="cap" style="top:765.1px">Рис. 2. Экспериментальные интегральные функции распределения спектров люминесценции огранен-</div>
<div class="cap" style="top:785.9px">ных алмазов – бриллиантов: ординарных и фантазийных цветов (а), синтетические-ростовые (б),</div>
<div class="cap last" style="top:806.7px">облагороженные (в), синтетические – дополнительно облученные пучком электронов (г).</div>
<div class="ln" style="top:853.4px;left:155px;width:427.5px">Интегральные функции распределения</div>
<div class="ln" style="top:879px;left:98px;width:484.5px">бриллиантов с фантазийной окраской (22 образца)</div>
<div class="ln" style="top:904.6px;left:98px;width:484.5px">располагаются в левой части частотной характе-</div>
<div class="ln" style="top:930.2px;left:98px;width:484.5px">ристикой. К ним также относится образец <i>B</i><sub>ф</sub>, у</div>
<div class="ln" style="top:955.8px;left:98px;width:484.5px">которого <i>F</i> = 0,5 и частота, равная граничной, со-</div>
<div class="ln" style="top:981.4px;left:98px;width:484.5px">ставляет ~0,4 Гц. Здесь интегральная кривая рас-</div>
<div class="ln" style="top:1007px;left:98px;width:484.5px">пределения симметричную <i>S</i>-образную кривую.</div>
<div class="ln" style="top:1032.6px;left:98px;width:484.5px">Из рис. 1, <i>а</i> можно заметить, что, с позиции люми-</div>
<div class="ln" style="top:1058.2px;left:98px;width:484.5px">несценции алмаза, образец <i>H</i><sub>о</sub> (ординарный по</div>
<div class="ln" style="top:1083.8px;left:98px;width:484.5px">цвету, табл. 1 [8]) и образец <i>L</i><sub>ф</sub> (фантазийный, таб-</div>
<div class="ln" style="top:1109.4px;left:98px;width:484.5px">лица 2 [2]) подобны друг другу. Однозначной свя-</div>
<div class="ln" style="top:1135px;left:98px;width:484.5px">зи между окраской бриллиантов и лазерно-</div>
<div class="ln" style="top:1160.6px;left:98px;width:484.5px">индуцированной люминесценцией не обнаружено</div>
<div class="ln" style="top:1186.2px;left:98px;width:484.5px">[9]. Анализ экспериментальных данных показыва-</div>
<div class="ln" style="top:1211.8px;left:98px;width:484.5px">ет: интегральные функции распределения бес-</div>
<div class="ln" style="top:1237.4px;left:98px;width:484.5px">цветных или с небольшим нацветом бриллиантов</div>
<div class="ln" style="top:1263px;left:98px;width:484.5px">расположены в правой, фантазийных – в левой</div>
<div class="ln" style="top:1288.6px;left:98px;width:484.5px">части (включая граничную частоту) в частотной</div>
<div class="ln" style="top:1314.2px;left:98px;width:484.5px">области. В дальнейшем эти кривые будут исполь-</div>
<div class="ln" style="top:1339.8px;left:98px;width:484.5px">зоваться в качестве эталонов бриллиантов, изго-</div>
<div class="ln last" style="top:1365.4px;left:98px;width:484.5px">товленных из алмаза природного происхождения.</div>
<div class="ln" style="top:1391px;left:155px;width:427.5px">Выполнено исследование 7 образцов синте-</div>
<div class="ln" style="top:1416.6px;left:98px;width:484.5px">тических ограненных алмазов желто-зеленой и</div>
<div class="ln" style="top:1442.2px;left:98px;width:484.5px">желто-коричневой цветовой гаммы [3]. На рис.</div>
<div class="ln" style="top:1467.8px;left:98px;width:484.5px">2, <i>б</i> представлены характерные для них расчетно-</div>
<div class="ln" style="top:1493.4px;left:98px;width:484.5px">экспериментальные интегральные функции рас-</div>
<div class="ln" style="top:1519px;left:98px;width:484.5px">пределения в виде графических зависимостей <i>F</i>(<i>f</i>)</div>
<div class="ln" style="top:1544.6px;left:98px;width:484.5px">для трех образцов. Кривые имеют неравномерную</div>
<div class="ln" style="top:853px;left:618px;width:485px">форму, расположены вблизи отрезка прямой рав-</div>
<div class="ln" style="top:878.52px;left:618px;width:485px">номерного распределения спектра люминесцен-</div>
<div class="ln last" style="top:904.03px;left:618px;width:485px">ции, заметно отличаются от <i>S</i>-образных линий.</div>
<div class="ln" style="top:929.55px;left:675px;width:428px">Вид <i>F</i>(<i>f</i>) отражает низкое качество алмазо-</div>
<div class="ln" style="top:955.07px;left:618px;width:485px">образования в лабораторных условиях по сравне-</div>
<div class="ln" style="top:980.58px;left:618px;width:485px">нию с технологией образования алмаза в природ-</div>
<div class="ln" style="top:1006.1px;left:618px;width:485px">ных условиях. Бриллианты по своей окраске</div>
<div class="ln" style="top:1031.62px;left:618px;width:485px">являются цветными, поэтому их интегральные</div>
<div class="ln" style="top:1057.13px;left:618px;width:485px">функции распределения должны располагаться в</div>
<div class="ln" style="top:1082.65px;left:618px;width:485px">левой части частотной области. Из 7 образцов</div>
<div class="ln" style="top:1108.17px;left:618px;width:485px">только три удовлетворяют этому условию, другие</div>
<div class="ln" style="top:1133.68px;left:618px;width:485px">признаются камнями не природного происхожде-</div>
<div class="ln" style="top:1159.2px;left:618px;width:485px">ния. На рис. 2, <i>б</i> образец <i>E</i> расположен в левой</div>
<div class="ln" style="top:1184.72px;left:618px;width:485px">части оси абсцисс, что подтверждает его цветную</div>
<div class="ln" style="top:1210.23px;left:618px;width:485px">окраску. В то же время на начальном участке она</div>
<div class="ln" style="top:1235.75px;left:618px;width:485px">практически полностью сливается с отрезком пря-</div>
<div class="ln" style="top:1261.27px;left:618px;width:485px">мой. Такая ситуация у природных алмазов не</div>
<div class="ln" style="top:1286.78px;left:618px;width:485px">наблюдается и, следовательно, данный камень сле-</div>
<div class="ln last" style="top:1312.3px;left:618px;width:485px">дует исключить из рассмотрения.</div>
<div class="ln" style="top:1337.9px;left:675px;width:428px">Исследованы 5 облагороженных синтетиче-</div>
<div class="ln" style="top:1363.5px;left:618px;width:485px">ских и 2 в природных условиях бриллиантов [3].</div>
<div class="ln" style="top:1389.1px;left:618px;width:485px">На рис. 2, <i>в</i> приведены типовые графические зави-</div>
<div class="ln" style="top:1414.7px;left:618px;width:485px">симости интегральных функций распределения</div>
<div class="ln" style="top:1440.3px;left:618px;width:485px">спектров люминесценции. В данном случае кри-</div>
<div class="ln" style="top:1465.9px;left:618px;width:485px">вые распределения заметно отличаются от при-</div>
<div class="ln" style="top:1491.5px;left:618px;width:485px">родных образцов (рис. 2, <i>а</i>). Главное отличие со-</div>
<div class="ln" style="top:1517.1px;left:618px;width:485px">стоит в том, что кривые распределения</div>
<div class="ln" style="top:1542.7px;left:618px;width:485px">пересекают отрезок прямой в области верхней</div>
</body></html>
